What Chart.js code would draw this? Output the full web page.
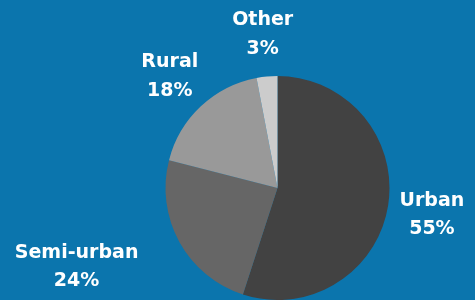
<!DOCTYPE html>
<html>
<head>
<meta charset="utf-8">
<script src="https://cdn.jsdelivr.net/npm/chart.js@4"></script>
<style>
  html, body { margin: 0; padding: 0; background: #0b75ad; }
  #wrap { width: 475px; height: 300px; }
</style>
</head>
<body>
<div id="wrap"><canvas id="chartCanvas"></canvas></div>
<script>
"use strict";

const categories = ['Urban', 'Semi-urban', 'Rural', 'Other'];
const shares = [55, 24, 18, 3];
const sliceColors = ['#424242', '#666666', '#999999', '#cccccc'];

// draws "Name / NN%" outside each slice
const outsideLabels = {
    id: 'outsideLabels',
    afterDatasetsDraw(chart, args, opts) {
        const ctx = chart.ctx;
        const arcs = chart.getDatasetMeta(0).data;
        ctx.save();
        ctx.fillStyle = opts.color;
        ctx.font = opts.font;
        ctx.textAlign = 'center';
        ctx.textBaseline = 'alphabetic';
        arcs.forEach((arc, i) => {
            const mid = (arc.startAngle + arc.endAngle) / 2;
            const d = arc.outerRadius * opts.distance;
            const nudge = opts.nudge[i] || [0, 0];
            const cx = arc.x + Math.cos(mid) * d + nudge[0];
            const cy = arc.y + Math.sin(mid) * d + nudge[1];
            ctx.fillText(chart.data.labels[i], cx, cy - 7);
            ctx.fillText(chart.data.datasets[0].data[i] + '%', cx, cy + 21.5);
        });
        ctx.restore();
    }
};

const ctx = document.getElementById('chartCanvas');

new Chart(ctx, {
    type: 'pie',
    data: {
        labels: categories,
        datasets: [{
            data: shares,
            backgroundColor: sliceColors,
            borderWidth: 0
        }]
    },
    options: {
        responsive: true,
        maintainAspectRatio: false,
        animation: false,
        layout: {
            padding: { top: 76, bottom: 0, left: 165, right: 85 }
        },
        plugins: {
            legend: { display: false },
            tooltip: { enabled: false },
            outsideLabels: {
                color: '#ffffff',
                font: 'bold 19px "DejaVu Sans"',
                distance: 1.405,
                nudge: [[-1, 0], [-63, 1], [0, 1], [0, 1]]
            }
        }
    },
    plugins: [outsideLabels]
});
</script>
</body>
</html>
